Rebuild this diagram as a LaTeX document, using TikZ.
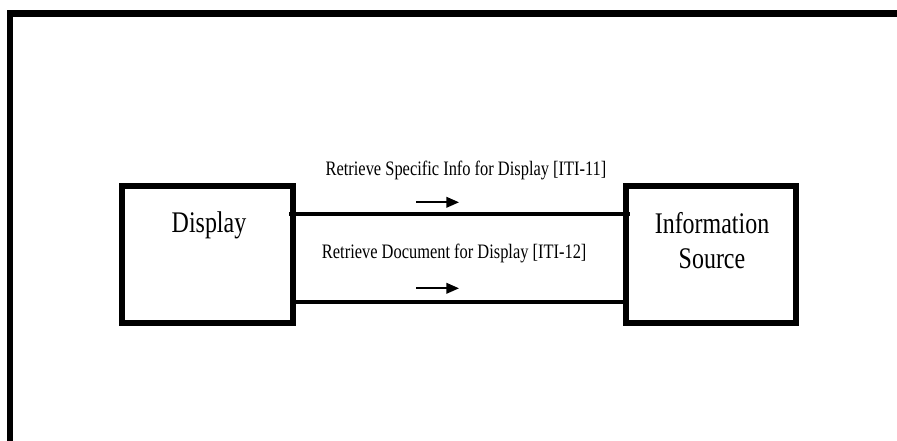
\documentclass[tikz,border=0pt]{standalone}
\usepackage{fontspec}
\setmainfont[FakeStretch=0.8]{Liberation Serif}
\usetikzlibrary{arrows.meta}

\begin{document}
\begin{tikzpicture}[
    actor/.style={draw, line width=3.6pt, minimum width=4.275cm, minimum height=3.425cm, inner sep=0pt, outer sep=0pt},
    actorname/.style={font=\fontsize{21.3}{24.9}\selectfont, align=center, inner sep=0pt},
    msg/.style={font=\fontsize{14.6}{17}\selectfont, inner sep=0pt},
    link/.style={line width=2.9pt},
    dir/.style={line width=1.2pt, -{Triangle[length=9pt,width=7.6pt]}}
  ]
  \clip (0,0) rectangle (22.425,11.025);
  \draw[line width=4.6pt, line join=miter] (0.25,-1) -- (0.25,10.6875) -- (23,10.6875);

  \node[actor] (disp) at (5.1875,4.6625) {};
  \node[actor, minimum width=4.25cm] (src) at (17.775,4.6625) {};
  \node[actorname] (displbl) at (5.225,5.4) {Display};
  \node[actorname] (srclbl) at (17.8,5.0125) {Information\\Source};

  \node[msg] (iti11) at (11.65,6.7575) {Retrieve Specific Info for Display [ITI-11]};
  \node[msg] (iti12) at (11.355,4.70) {Retrieve Document for Display [ITI-12]};

  \draw[link, shorten <=-0.1cm, shorten >=-0.1cm] ([yshift=1.0175cm]disp.east) -- ([yshift=1.0175cm]src.west);
  \draw[link] ([yshift=-1.1875cm]disp.east) -- ([yshift=-1.1875cm]src.west);

  \coordinate (a11s) at (10.4,5.9675);
  \coordinate (a11e) at (11.475,5.9675);
  \coordinate (a12s) at (10.4,3.8175);
  \coordinate (a12e) at (11.475,3.8175);
  \draw[dir] (a11s) -- (a11e);
  \draw[dir] (a12s) -- (a12e);
\end{tikzpicture}
\end{document}
